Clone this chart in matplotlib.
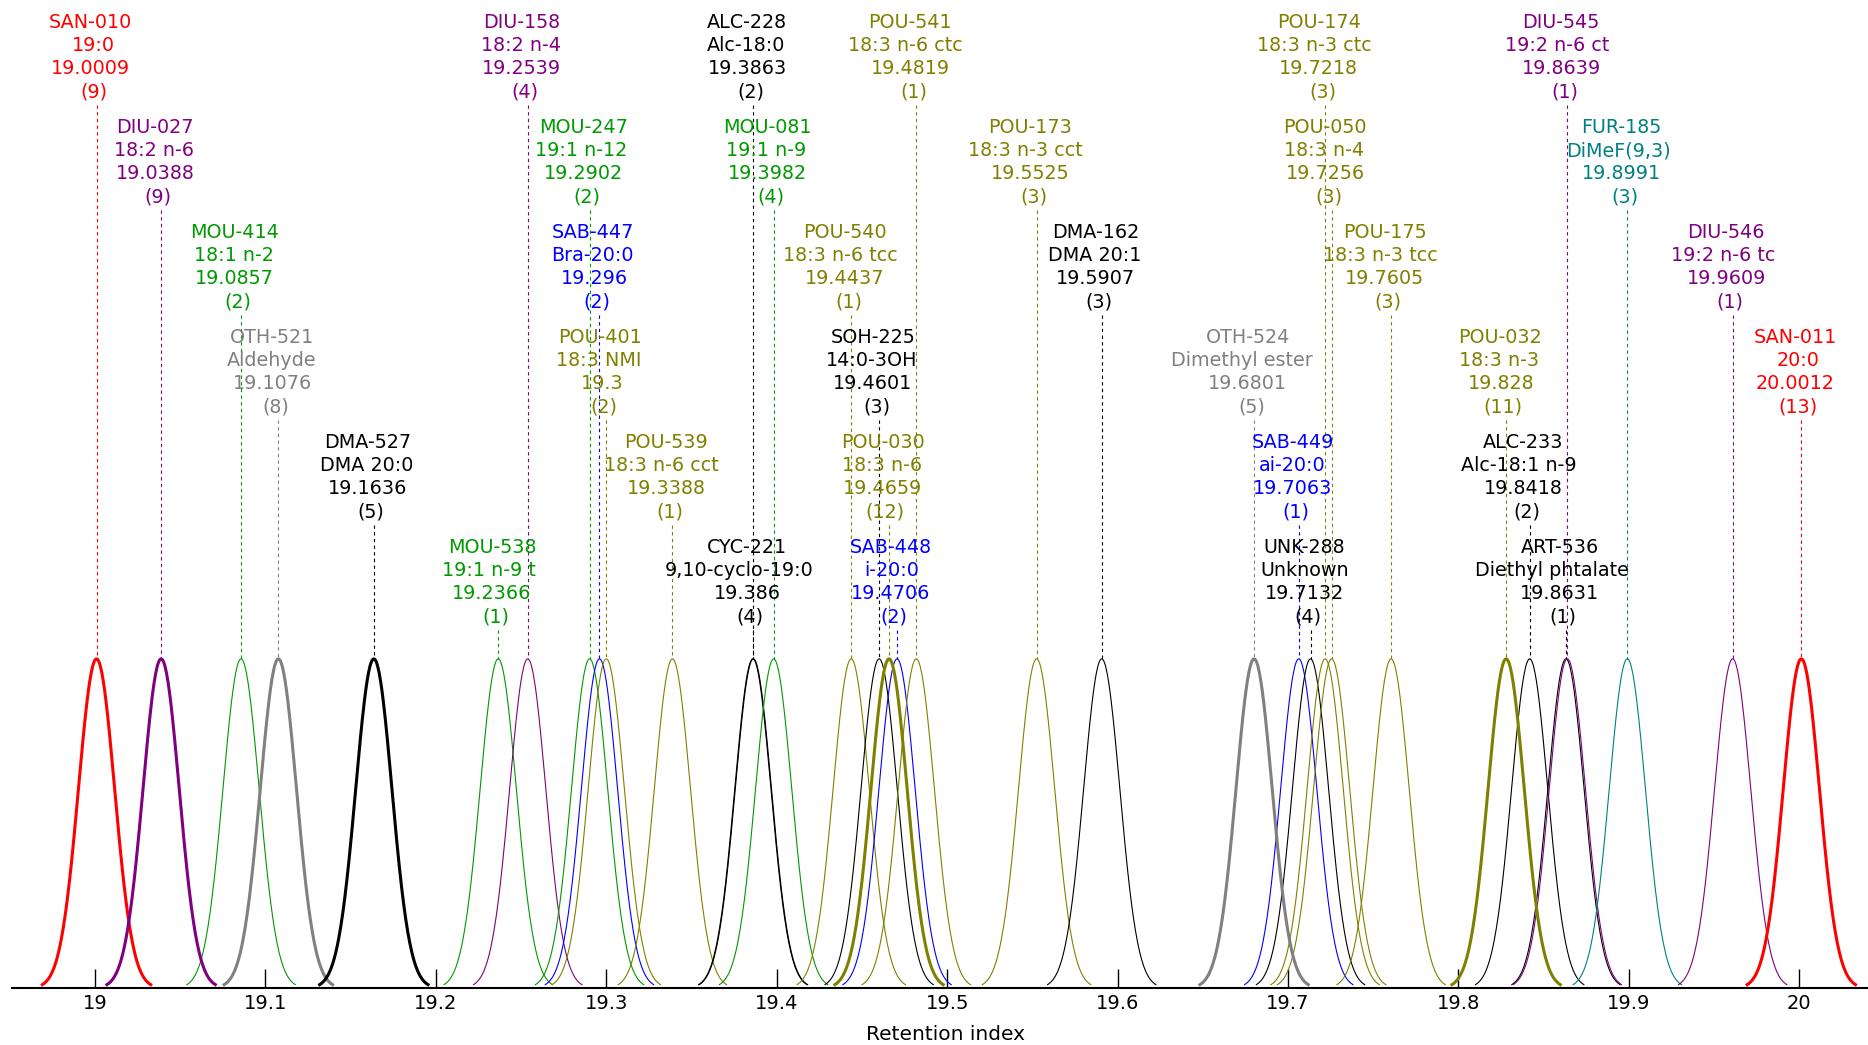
import numpy as np
import matplotlib
matplotlib.use("Agg")
import matplotlib.pyplot as plt
import matplotlib.transforms as mtransforms

# ---------------- data ----------------
codes = ["SAN-010", "DIU-027", "MOU-414", "OTH-521", "DMA-527", "MOU-538",
         "DIU-158", "MOU-247", "SAB-447", "POU-401", "POU-539", "CYC-221",
         "ALC-228", "MOU-081", "POU-540", "SOH-225", "POU-030", "SAB-448",
         "POU-541", "POU-173", "DMA-162", "OTH-524", "SAB-449", "UNK-288",
         "POU-174", "POU-050", "POU-175", "POU-032", "ALC-233", "ART-536",
         "DIU-545", "FUR-185", "DIU-546", "SAN-011"]
names = ["19:0", "18:2 n-6", "18:1 n-2", "Aldehyde", "DMA 20:0", "19:1 n-9 t",
         "18:2 n-4", "19:1 n-12", "Bra-20:0", "18:3 NMI", "18:3 n-6 cct", "9,10-cyclo-19:0",
         "Alc-18:0", "19:1 n-9", "18:3 n-6 tcc", "14:0-3OH", "18:3 n-6", "i-20:0",
         "18:3 n-6 ctc", "18:3 n-3 cct", "DMA 20:1", "Dimethyl ester", "ai-20:0", "Unknown",
         "18:3 n-3 ctc", "18:3 n-4", "18:3 n-3 tcc", "18:3 n-3", "Alc-18:1 n-9", "Diethyl phtalate",
         "19:2 n-6 ct", "DiMeF(9,3)", "19:2 n-6 tc", "20:0"]
retention = [19.0009, 19.0388, 19.0857, 19.1076, 19.1636, 19.2366,
             19.2539, 19.2902, 19.296, 19.3, 19.3388, 19.386,
             19.3863, 19.3982, 19.4437, 19.4601, 19.4659, 19.4706,
             19.4819, 19.5525, 19.5907, 19.6801, 19.7063, 19.7132,
             19.7218, 19.7256, 19.7605, 19.828, 19.8418, 19.8631,
             19.8639, 19.8991, 19.9609, 20.0012]
counts = [9, 9, 2, 8, 5, 1,
          4, 2, 2, 2, 1, 4,
          2, 4, 1, 3, 12, 2,
          1, 3, 3, 5, 1, 4,
          3, 3, 3, 11, 2, 1,
          1, 3, 1, 13]
tick_values = [19.0, 19.1, 19.2, 19.3, 19.4, 19.5, 19.6, 19.7, 19.8, 19.9, 20.0]
tick_labels = ["19", "19.1", "19.2", "19.3", "19.4", "19.5", "19.6", "19.7", "19.8", "19.9", "20"]

family_colors = {"SAN": "#ff0000", "DIU": "#800080", "MOU": "#009900", "OTH": "#808080",
                 "DMA": "#000000", "SAB": "#0000ff", "POU": "#808000", "CYC": "#000000",
                 "ALC": "#000000", "SOH": "#000000", "UNK": "#000000", "ART": "#000000",
                 "FUR": "#008080"}

# ---------------- layout ----------------
W, H, DPI = 1868, 1045, 100
AX_LEFT_PX = 11.7
AX_BOTTOM_PX = 988.3          # from top of figure
X_AT_19 = 95.0
PX_PER_UNIT = 1704.3
YMAX = 3.0                    # peak amplitude 1 -> ~329 px
SIGMA = 0.0106
N_ROWS = 6
ROW_STEP = 105.0
LINE_STEP = 23.3
FIRST_BASELINE = 27.7
FS = 13.8

fig = plt.figure(figsize=(W / DPI, H / DPI), dpi=DPI)
ax = fig.add_axes([AX_LEFT_PX / W, (H - AX_BOTTOM_PX) / H, 1 - AX_LEFT_PX / W, AX_BOTTOM_PX / H])
x0 = 19 - (X_AT_19 - AX_LEFT_PX) / PX_PER_UNIT
x1 = 19 + (W - X_AT_19) / PX_PER_UNIT
ax.set_xlim(x0, x1)
ax.set_ylim(0, YMAX)


def y_of_px(ypx):
    return YMAX * (AX_BOTTOM_PX - ypx) / AX_BOTTOM_PX


for i, (code, name, rt, n) in enumerate(zip(codes, names, retention, counts)):
    c = family_colors[code[:3]]
    xs = np.linspace(rt - 3 * SIGMA, rt + 3 * SIGMA, 161)
    ys = np.exp(-0.5 * ((xs - rt) / SIGMA) ** 2)
    ax.plot(xs, ys, color=c, lw=2.2 if n >= 5 else 0.8, zorder=3 if n >= 5 else 2)

    row = i % N_ROWS
    lines = [code, name, str(rt), f"({n})"]
    for k, s in enumerate(lines):
        yb = FIRST_BASELINE + ROW_STEP * row + LINE_STEP * k
        tr = mtransforms.offset_copy(ax.transData, fig=fig, x=-0.9 * len(s), y=0, units="dots")
        ax.text(rt, y_of_px(yb), s, transform=tr, ha="center", va="baseline",
                color=c, fontsize=FS, family="DejaVu Sans", zorder=5, clip_on=False)
    y_start = FIRST_BASELINE + ROW_STEP * row + LINE_STEP * 3 + 7
    ax.plot([rt, rt], [y_of_px(y_start), 1.0], color=c, lw=0.8, ls=(0, (3, 3)), zorder=1)

for side in ("left", "right", "top"):
    ax.spines[side].set_visible(False)
ax.spines["bottom"].set_linewidth(1.5)
ax.spines["bottom"].set_color("black")
ax.set_yticks([])
ax.set_xticks(tick_values)
ax.set_xticklabels(tick_labels)
ax.tick_params(axis="x", direction="in", length=13.7, width=1.0, pad=4,
               labelsize=14, colors="black")
ax.set_xlabel("Retention index", fontsize=14.5)
ax.xaxis.set_label_coords((946 - AX_LEFT_PX) / (W - AX_LEFT_PX), (AX_BOTTOM_PX - 1034) / AX_BOTTOM_PX)
ax.xaxis.label.set_va("center")
ax.patch.set_visible(False)

fig.savefig("out.png", dpi=DPI, facecolor="white")
